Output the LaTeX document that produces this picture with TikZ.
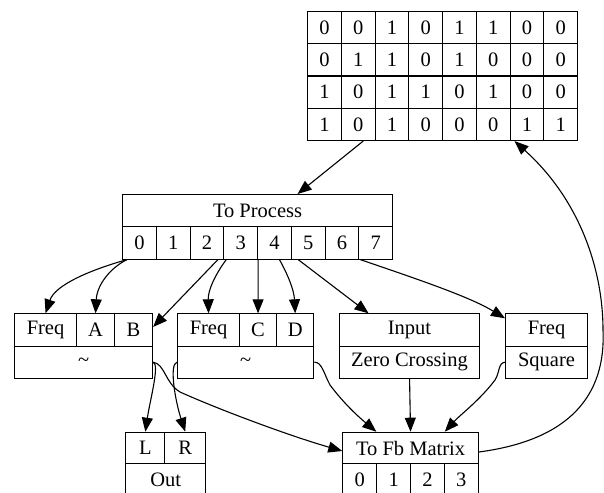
\documentclass[tikz,border=0pt]{standalone}
\usepackage{fontspec}
\setmainfont{Liberation Serif}
\usetikzlibrary{arrows.meta,calc}
\begin{document}
\begin{tikzpicture}[x=1pt,y=-1pt,
  fld/.style={draw, line width=1.1pt, minimum width=#1, minimum height=32.25pt,
    inner sep=0pt, anchor=north west, font=\fontsize{20.5}{24}\selectfont},
  fld/.default=33.75pt,
  conn/.style={line width=1.1pt, -{Triangle[length=14pt,width=11pt]}}]
\useasboundingbox (0,0) rectangle (604,492);
\clip (0,0) rectangle (604,492);

% feedback matrix
\foreach \row [count=\r] in {{0,0,1,0,1,1,0,0},{0,1,1,0,1,0,0,0},{1,0,1,1,0,1,0,0},{1,0,1,0,0,0,1,1}}
  \foreach \v [count=\c] in \row
    \node[fld] (m\r\c) at ({307+(\c-1)*33.75},{11+(\r-1)*32.25}) {\v};

% To Process
\node[fld=270pt] (tp) at (122,194) {To Process};
\foreach \i in {0,...,7}
  \node[fld] (p\i) at ({122+\i*33.75},226.25) {\i};

% Freq A B
\node[fld=62pt] (fa) at (14,313.3) {Freq};
\node[fld=38pt] (a) at (76,313.3) {A};
\node[fld=38pt] (b) at (114,313.3) {B};
\node[fld=138pt] (t1) at (14,345.5) {\textasciitilde};

% Freq C D
\node[fld=62pt] (fc) at (177,313.3) {Freq};
\node[fld=37pt] (c) at (239,313.3) {C};
\node[fld=37.3pt] (d) at (276,313.3) {D};
\node[fld=136.3pt] (t2) at (177,345.5) {\textasciitilde};

% Input / Zero Crossing
\node[fld=140pt] (in) at (339,313.3) {Input};
\node[fld=140pt] (zc) at (339,345.5) {Zero Crossing};

% Freq / Square
\node[fld=82pt] (fs) at (505,313.3) {Freq};
\node[fld=82pt] (sq) at (505,345.5) {Square};

% Out
\node[fld=39pt, minimum height=31pt] (l) at (125.3,431.7) {L};
\node[fld=40.7pt, minimum height=31pt] (r) at (164.3,431.7) {R};
\node[fld=79.7pt] (out) at (125.3,462.7) {Out};

% To Fb Matrix
\node[fld=135.4pt, minimum height=31.5pt] (fb) at (342.3,431.7) {To Fb Matrix};
\foreach \i in {0,...,3}
  \node[fld=33.85pt] (q\i) at ({342.3+\i*33.85},463.2) {\i};

% connectors
\draw[conn] ($(m42.south)+(5,0)$) -- ($(tp.north)+(40,0)$);
\draw[conn] ($(fb.east)+(0,4)$) .. controls (570,440) and (606,395) .. (603,330)
  .. controls (603,270) and (580,200) .. ($(m47.south west)+(5,0)$);

\draw[conn] ($(p0.south west)+(5,0)$) .. controls (90,270) and (55,285) .. (fa.north);
\draw[conn] ($(p0.south west)+(5,0)$) .. controls (110,268) and (97,285) .. (a.north);
\draw[conn] ($(p2.south)+(11,0)$) -- ($(b.east)+(0,-3)$);
\draw[conn] ($(p3.south west)+(3,0)$) .. controls (215,275) and (208,290) .. (fc.north);
\draw[conn] (p3.south east) -- (c.north);
\draw[conn] ($(p4.south)+(5,0)$) .. controls (288,275) and (294,290) .. (d.north);
\draw[conn] ($(p5.south)+(-10,0)$) -- ($(in.north)+(-41,0)$);
\draw[conn] ($(p7.south west)+(2,0)$) .. controls (420,280) and (470,297) .. ($(fs.north west)+(0,5)$);

\draw[conn] (t1.east) .. controls (160,364) and (150,400) .. (l.north);
\draw[conn] (t1.east) .. controls (165,364) and (165,383) .. (180,392)
  .. controls (220,410) and (290,436) .. ($(fb.west)+(0,3)$);
\draw[conn] (t2.west) .. controls (169,364) and (175,400) .. (r.north);
\draw[conn] (t2.east) .. controls (322,362) and (324,374) .. (330,385)
  .. controls (345,405) and (360,418) .. ($(fb.north west)+(34,0)$);
\draw[conn] (zc.south) -- (fb.north);
\draw[conn] (sq.west) .. controls (498,363) and (500,372) .. (495,380)
  .. controls (480,400) and (460,415) .. ($(fb.north east)+(-34,0)$);
\end{tikzpicture}
\end{document}
